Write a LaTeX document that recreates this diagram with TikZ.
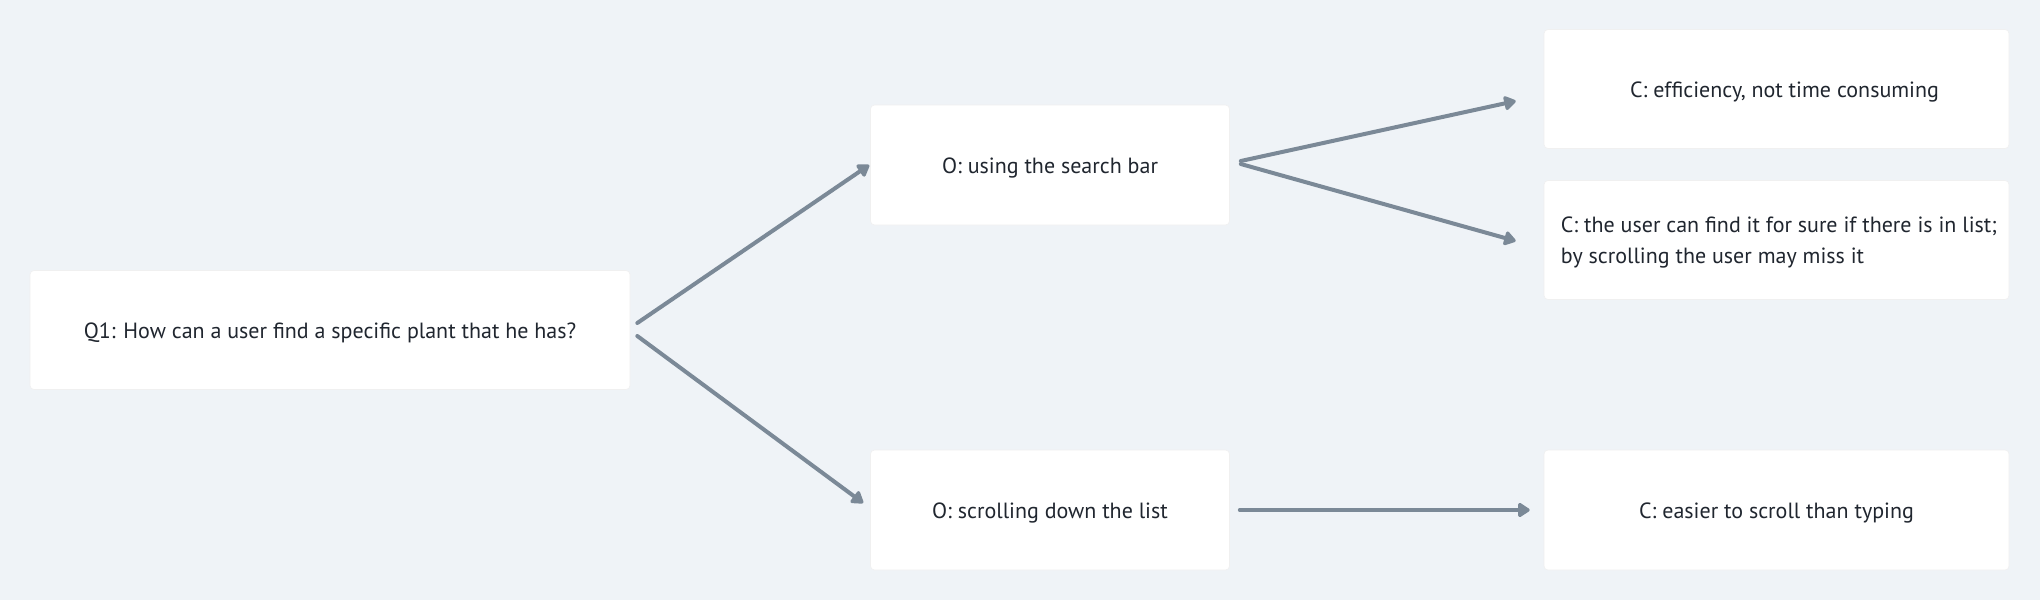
\documentclass[tikz,border=0pt]{standalone}
\usepackage{fontspec}
\setmainfont{PT Sans}
\usetikzlibrary{arrows.meta}
\definecolor{bg}{HTML}{EFF3F7}
\definecolor{ln}{HTML}{7B8997}
\definecolor{tx}{HTML}{20262F}
\tikzset{
  card/.style={fill=white, rounded corners=4pt, inner sep=0pt, text=tx,
    font=\fontsize{22}{31}\selectfont, draw=black!6, line width=0.6pt,
    text height=20pt, text depth=3pt},
  link/.style={draw=ln, line width=4pt, line cap=round,
    -{Triangle[length=13pt,width=16pt,round]}},
}
\begin{document}
\begin{tikzpicture}[x=1pt,y=-1pt]
\useasboundingbox[fill=bg] (0,0) rectangle (2040,600);
\node[card, minimum width=600pt, minimum height=119pt] (q1) at (330,330) {Q1: How can a user find a specific plant that he has?};
\node[card, minimum width=359pt, minimum height=120pt] (o1) at (1050,165) {O: using the search bar};
\node[card, minimum width=359pt, minimum height=120pt] (o2) at (1050,510) {O: scrolling down the list};
\node[card, minimum width=465pt, minimum height=119pt] (c1) at (1776.5,89) {\hspace*{16pt}C: efficiency, not time consuming};
\node[card, minimum width=465pt, minimum height=119pt] (c2) at (1776.5,240) {};
\node[anchor=west, text=tx, font=\fontsize{22}{31}\selectfont, align=left, inner sep=0pt] (c2t) at ([xshift=17pt,yshift=-2pt]c2.west) {C: the user can find it for sure if there is in list;\\by scrolling the user may miss it};
\node[card, minimum width=465pt, minimum height=120pt] (c3) at (1776.5,510) {C: easier to scroll than typing};
\draw[link] ([xshift=7pt,yshift=7pt]q1.east) -- ([xshift=-1pt]o1.west);
\draw[link] ([xshift=7pt,yshift=-6pt]q1.east) -- ([xshift=-7pt,yshift=7pt]o2.west);
\draw[link] ([xshift=11pt,yshift=4pt]o1.east) -- ([xshift=-28pt,yshift=-12pt]c1.west);
\draw[link] ([xshift=11pt,yshift=1pt]o1.east) -- ([xshift=-28pt,yshift=-1pt]c2.west);
\draw[link] ([xshift=10pt]o2.east) -- ([xshift=-14pt]c3.west);
\end{tikzpicture}
\end{document}
